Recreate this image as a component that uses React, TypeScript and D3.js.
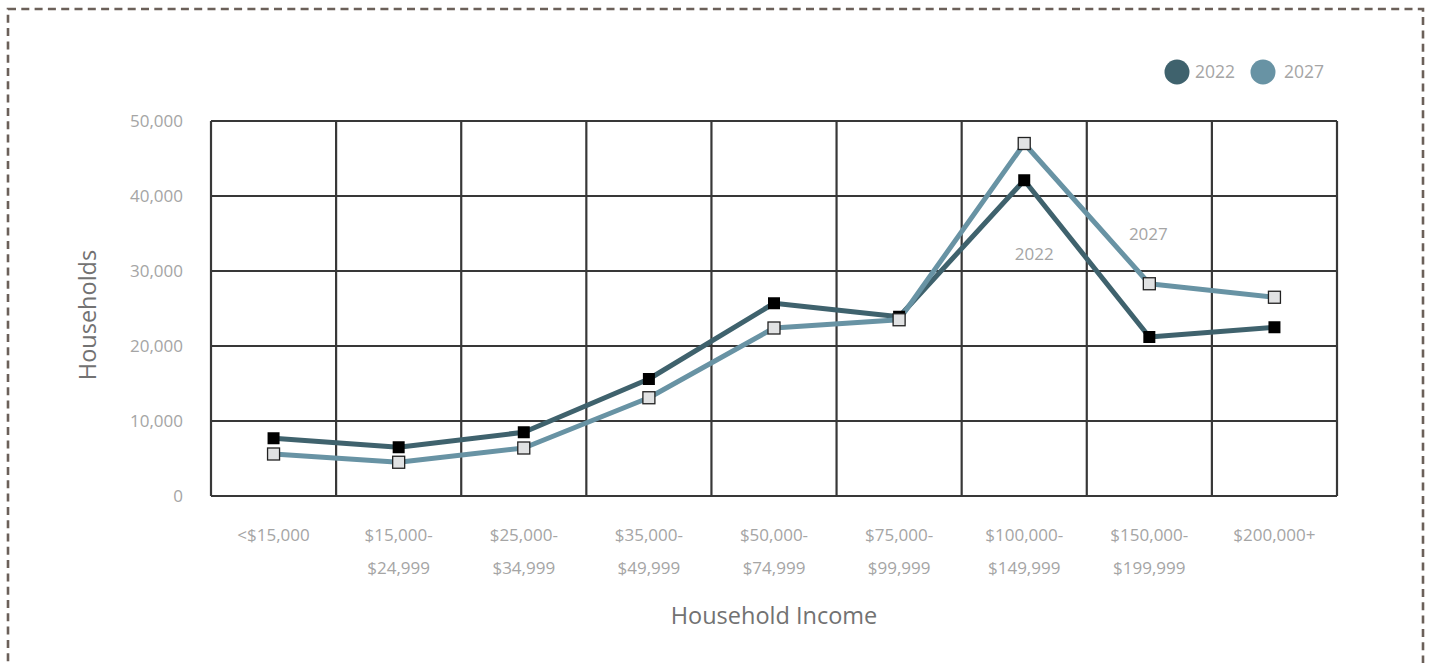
import React from "react";
import * as d3 from "d3";

const categories = [
  ["<$15,000"],
  ["$15,000-", "$24,999"],
  ["$25,000-", "$34,999"],
  ["$35,000-", "$49,999"],
  ["$50,000-", "$74,999"],
  ["$75,000-", "$99,999"],
  ["$100,000-", "$149,999"],
  ["$150,000-", "$199,999"],
  ["$200,000+"],
];
const values2022 = [7700, 6500, 8500, 15600, 25700, 23900, 42100, 21200, 22500];
const values2027 = [5600, 4500, 6400, 13100, 22400, 23500, 47000, 28300, 26500];
const yTicks = [0, 10000, 20000, 30000, 40000, 50000];
const seriesNames = ["2022", "2027"];
// series label annotations: [category index, value]
const labelPos2022: [number, number] = [6, 32300];
const labelPos2027: [number, number] = [7, 34900];

const W = 1432;
const H = 663;
const plot = { left: 211, right: 1337, top: 121, bottom: 496 };
const c2022 = "#3f626d";
const c2027 = "#6893a4";
const gridColor = "#383838";
const tickColor = "#a5a5a5";
const font = "'Open Sans', sans-serif";

export default function App() {
  const idx = categories.map((_, i) => i);
  const x = d3.scaleBand<number>().domain(idx).range([plot.left, plot.right]);
  const y = d3.scaleLinear().domain([0, 50000]).range([plot.bottom, plot.top]);
  const cx = (i: number) => (x(i) as number) + x.bandwidth() / 2;
  const line = d3
    .line<number>()
    .x((_, i) => cx(i))
    .y((d) => y(d));
  const fmt = d3.format(",");
  const ms = 12;
  const bounds = [...idx.map((i) => x(i) as number), plot.right];

  return (
    <svg width={W} height={H} style={{ position: "absolute", left: 0, top: 0, display: "block" }}>
      <rect x={0} y={0} width={W} height={H} fill="#fff" />
      <rect
        x={8}
        y={9}
        width={1415}
        height={680}
        fill="none"
        stroke="#6b6059"
        strokeWidth={2.6}
        strokeDasharray="8 5.3"
      />
      {/* grid */}
      {yTicks.map((t) => (
        <line key={"h" + t} x1={plot.left} x2={plot.right} y1={y(t)} y2={y(t)} stroke={gridColor} strokeWidth={2.2} />
      ))}
      {bounds.map((b, i) => (
        <line key={"v" + i} x1={b} x2={b} y1={plot.top} y2={plot.bottom} stroke={gridColor} strokeWidth={2.2} />
      ))}
      {/* y tick labels */}
      {yTicks.map((t) => (
        <text
          key={"yt" + t}
          x={183}
          y={y(t)}
          dy="0.35em"
          textAnchor="end"
          fill={tickColor}
          fontFamily={font}
          fontSize={17}
        >
          {fmt(t)}
        </text>
      ))}
      {/* x tick labels */}
      {categories.map((lines, i) =>
        lines.map((l, j) => (
          <text
            key={"xt" + i + "-" + j}
            x={cx(i)}
            y={541 + j * 33}
            textAnchor="middle"
            fill={tickColor}
            fontFamily={font}
            fontSize={17}
          >
            {l}
          </text>
        ))
      )}
      {/* lines */}
      <path d={line(values2022) || ""} fill="none" stroke={c2022} strokeWidth={5} strokeLinejoin="round" />
      <path d={line(values2027) || ""} fill="none" stroke={c2027} strokeWidth={5} strokeLinejoin="round" />
      {values2022.map((v, i) => (
        <rect key={"m22" + i} x={cx(i) - ms / 2} y={y(v) - ms / 2} width={ms} height={ms} fill="#000" />
      ))}
      {values2027.map((v, i) => (
        <rect
          key={"m27" + i}
          x={cx(i) - ms / 2}
          y={y(v) - ms / 2}
          width={ms}
          height={ms}
          fill="#e1e2e3"
          stroke="#222"
          strokeWidth={1.3}
        />
      ))}
      {/* series labels */}
      <text
        x={cx(labelPos2022[0]) + 10}
        y={y(labelPos2022[1])}
        dy="0.35em"
        textAnchor="middle"
        fill={tickColor}
        fontFamily={font}
        fontSize={17}
      >
        {seriesNames[0]}
      </text>
      <text
        x={cx(labelPos2027[0]) - 1}
        y={y(labelPos2027[1])}
        dy="0.35em"
        textAnchor="middle"
        fill={tickColor}
        fontFamily={font}
        fontSize={17}
      >
        {seriesNames[1]}
      </text>
      {/* legend */}
      <circle cx={1177} cy={72} r={12.5} fill={c2022} />
      <text x={1195} y={72} dy="0.35em" fill={tickColor} fontFamily={font} fontSize={17.5}>
        {seriesNames[0]}
      </text>
      <circle cx={1263} cy={72} r={12.5} fill={c2027} />
      <text x={1284} y={72} dy="0.35em" fill={tickColor} fontFamily={font} fontSize={17.5}>
        {seriesNames[1]}
      </text>
      {/* axis titles */}
      <text
        transform={`translate(96, 315) rotate(-90)`}
        textAnchor="middle"
        fill="#727272"
        fontFamily={font}
        fontSize={23.5}
      >
        Households
      </text>
      <text x={774} y={624} textAnchor="middle" fill="#727272" fontFamily={font} fontSize={23.5}>
        Household Income
      </text>
    </svg>
  );
}
